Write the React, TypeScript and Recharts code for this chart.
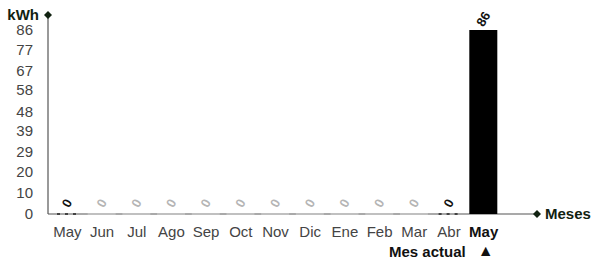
import React from 'react';
import { BarChart, Bar, XAxis, YAxis, LabelList, usePlotArea } from 'recharts';

const months = ['May', 'Jun', 'Jul', 'Ago', 'Sep', 'Oct', 'Nov', 'Dic', 'Ene', 'Feb', 'Mar', 'Abr', 'May'];
const consumption = [0, 0, 0, 0, 0, 0, 0, 0, 0, 0, 0, 0, 86];
const measured = [true, false, false, false, false, false, false, false, false, false, false, true, true];
const yTicks = [0, 10, 20, 29, 39, 48, 58, 67, 77, 86];

const data = months.map((m, i) => ({ key: i, month: m, kwh: consumption[i], measured: measured[i] }));

const FONT = '"Liberation Sans", Arial, sans-serif';

function BarShape(props: any) {
  const { x, y, width, height, payload } = props;
  if (height > 0.5) {
    return <rect x={x} y={y} width={width} height={height} fill="#000" />;
  }
  const base = y + height;
  if (payload.measured) {
    return <line x1={x + 4} y1={base} x2={x + width - 4} y2={base} stroke="#222" strokeWidth={1.5} strokeDasharray="3 5" />;
  }
  return <line x1={x} y1={base} x2={x + width} y2={base} stroke="#c8c8c8" strokeWidth={1.5} />;
}

function ValueLabel(props: any) {
  const { x, y, width, value, index } = props;
  const cx = x + width / 2;
  const cy = y - 11;
  const dark = measured[index];
  return (
    <text
      x={cx}
      y={cy}
      transform={`rotate(-60 ${cx} ${cy})`}
      textAnchor="middle"
      dominantBaseline="central"
      fontSize={13}
      fontWeight="bold"
      fontFamily={FONT}
      fill={dark ? '#111' : '#b5b5b5'}
    >
      {value}
    </text>
  );
}

function MonthTick(props: any) {
  const { x, y, payload, index } = props;
  const last = index === months.length - 1;
  return (
    <g>
      <text x={x} y={y + 15} textAnchor="middle" fontSize={15} fontFamily={FONT}
        fontWeight={last ? 'bold' : 'normal'} fill={last ? '#111' : '#444'}>
        {months[payload.value]}
      </text>
      {last && (
        <>
          <text x={x - 18} y={y + 35} textAnchor="end" fontSize={15} fontWeight="bold" fontFamily={FONT} fill="#111">
            Mes actual
          </text>
          <text x={x + 2} y={y + 34} textAnchor="middle" fontSize={16} fontFamily={FONT} fill="#111">▲</text>
        </>
      )}
    </g>
  );
}

function AxisDecor() {
  const area = usePlotArea();
  if (!area) return null;
  const left = area.x;
  const bottom = area.y + area.height;
  const right = area.x + area.width;
  const top = area.y - 15;
  const d = 4;
  return (
    <g>
      <line x1={left} y1={top} x2={left} y2={bottom} stroke="#555" strokeWidth={1.2} />
      <line x1={left} y1={bottom} x2={right} y2={bottom} stroke="#555" strokeWidth={1.2} />
      <polygon points={`${left},${top - d} ${left + d},${top} ${left},${top + d} ${left - d},${top}`} fill="#112211" />
      <polygon points={`${right},${bottom - d} ${right + d},${bottom} ${right},${bottom + d} ${right - d},${bottom}`} fill="#112211" />
      <text x={left - 9} y={top + 5} textAnchor="end" fontSize={15} fontWeight="bold" fontFamily={FONT} fill="#112211">kWh</text>
      <text x={right + 8} y={bottom + 5} fontSize={15} fontWeight="bold" fontFamily={FONT} fill="#112211">Meses</text>
    </g>
  );
}

export default function App() {
  return (
    <div style={{ position: 'absolute', left: 0, top: 0, background: '#fff' }}>
      <BarChart width={592} height={259} data={data} margin={{ top: 30, right: 55, bottom: 0, left: 0 }} barSize={28}>
        <XAxis
          dataKey="key"
          axisLine={false}
          tickLine={false}
          height={45}
          interval={0}
          padding={{ left: 2, right: 36 }}
          tick={<MonthTick />}
        />
        <YAxis
          domain={[0, 86]}
          ticks={yTicks}
          width={48}
          axisLine={false}
          tickLine={false}
          tickSize={0}
          tickMargin={15}
          interval={0}
          tick={{ fontSize: 15, fill: '#444', fontFamily: FONT }}
        />
        <Bar dataKey="kwh" shape={<BarShape />} isAnimationActive={false}>
          <LabelList dataKey="kwh" content={<ValueLabel />} />
        </Bar>
        <AxisDecor />
      </BarChart>
    </div>
  );
}
